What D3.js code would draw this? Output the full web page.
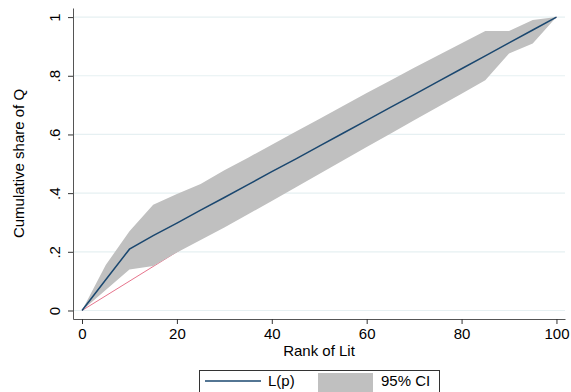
<!DOCTYPE html>
<html>
<head>
<meta charset="utf-8">
<script src="https://cdn.jsdelivr.net/npm/d3@7"></script>
<style>
  body { margin: 0; background: #fff; }
  svg { display: block; font-family: "Liberation Sans", Arial, sans-serif; }
</style>
</head>
<body>
<div id="chart"></div>
<script>
// Data
const ranks   = [0, 5, 10, 15, 20, 25, 30, 35, 40, 45, 50, 55, 60, 65, 70, 75, 80, 85, 90, 95, 100];
const lp      = [0, 0.105, 0.209, 0.255, 0.298, 0.342, 0.385, 0.429, 0.473, 0.516, 0.56, 0.604, 0.648, 0.692, 0.736, 0.78, 0.824, 0.868, 0.912, 0.956, 1];
const ciLower = [0, 0.07, 0.14, 0.152, 0.198, 0.24, 0.283, 0.328, 0.373, 0.419, 0.465, 0.511, 0.557, 0.602, 0.648, 0.694, 0.739, 0.785, 0.876, 0.91, 1];
const ciUpper = [0, 0.155, 0.27, 0.36, 0.397, 0.431, 0.478, 0.521, 0.565, 0.609, 0.653, 0.697, 0.741, 0.784, 0.827, 0.869, 0.911, 0.953, 0.953, 0.99, 1];
const equality = [[0, 0], [100, 1]];

const xTicks = [0, 20, 40, 60, 80, 100];
const yTicks = [0, 0.2, 0.4, 0.6, 0.8, 1];
const yTickLabels = ['0', '.2', '.4', '.6', '.8', '1'];

const width = 571;
const height = 392;
const plot = { left: 73, right: 565, top: 8, bottom: 319 };

const rows = ranks.map((p, i) => ({ p, lp: lp[i], lo: ciLower[i], hi: ciUpper[i] }));

const svg = d3.select('#chart')
  .append('svg')
  .attr('width', width)
  .attr('height', height);

const x = d3.scaleLinear().domain([-1.9, 101.8]).range([plot.left, plot.right]);
const y = d3.scaleLinear().domain([-0.029, 1.031]).range([plot.bottom, plot.top]);

// gridlines
svg.append('g')
  .selectAll('line')
  .data(yTicks)
  .join('line')
  .attr('x1', plot.left)
  .attr('x2', plot.right)
  .attr('y1', d => y(d))
  .attr('y2', d => y(d))
  .attr('stroke', '#e6f0f2')
  .attr('stroke-width', 1.2);

// equality line (under the band)
svg.append('path')
  .datum(equality)
  .attr('fill', 'none')
  .attr('stroke', '#e0506e')
  .attr('stroke-width', 0.8)
  .attr('d', d3.line().x(d => x(d[0])).y(d => y(d[1])));

// 95% CI band
svg.append('path')
  .datum(rows)
  .attr('fill', '#c0c0c0')
  .attr('d', d3.area().x(d => x(d.p)).y0(d => y(d.lo)).y1(d => y(d.hi)));

// L(p)
svg.append('path')
  .datum(rows)
  .attr('fill', 'none')
  .attr('stroke', '#1a476f')
  .attr('stroke-width', 1.5)
  .attr('d', d3.line().x(d => x(d.p)).y(d => y(d.lp)));

// axes
const xAxis = svg.append('g')
  .attr('transform', `translate(0,${plot.bottom})`)
  .call(d3.axisBottom(x).tickValues(xTicks).tickSize(5).tickPadding(4).tickSizeOuter(0));

const yAxis = svg.append('g')
  .attr('transform', `translate(${plot.left},0)`)
  .call(d3.axisLeft(y).tickValues(yTicks).tickSize(5).tickSizeOuter(0)
    .tickFormat((d, i) => yTickLabels[i]));

[xAxis, yAxis].forEach(axis => {
  axis.select('.domain').attr('stroke', '#555');
  axis.selectAll('.tick line').attr('stroke', '#333');
  axis.selectAll('text')
    .attr('fill', '#000')
    .style('font-size', '15px')
    .style('font-family', '"Liberation Sans", Arial, sans-serif');
});

yAxis.selectAll('.tick text')
  .attr('x', null)
  .attr('dy', null)
  .attr('text-anchor', 'middle')
  .attr('transform', 'translate(-13,0) rotate(-90)');

// axis titles
svg.append('text')
  .attr('x', (plot.left + plot.right) / 2)
  .attr('y', 356)
  .attr('text-anchor', 'middle')
  .style('font-size', '15px')
  .text('Rank of Lit');

svg.append('text')
  .attr('transform', `translate(24,${(plot.top + plot.bottom) / 2}) rotate(-90)`)
  .attr('text-anchor', 'middle')
  .style('font-size', '15px')
  .text('Cumulative share of Q');

// legend
const legend = svg.append('g');

legend.append('rect')
  .attr('x', 199.5)
  .attr('y', 370.5)
  .attr('width', 240)
  .attr('height', 40)
  .attr('fill', '#fff')
  .attr('stroke', '#333');

legend.append('line')
  .attr('x1', 205)
  .attr('x2', 261)
  .attr('y1', 381)
  .attr('y2', 381)
  .attr('stroke', '#1a476f')
  .attr('stroke-width', 1.5);

legend.append('text')
  .attr('x', 268)
  .attr('y', 386)
  .style('font-size', '15px')
  .text('L(p)');

legend.append('rect')
  .attr('x', 318)
  .attr('y', 373)
  .attr('width', 55)
  .attr('height', 30)
  .attr('fill', '#c0c0c0');

legend.append('text')
  .attr('x', 381)
  .attr('y', 386)
  .style('font-size', '15px')
  .text('95% CI');
</script>
</body>
</html>
